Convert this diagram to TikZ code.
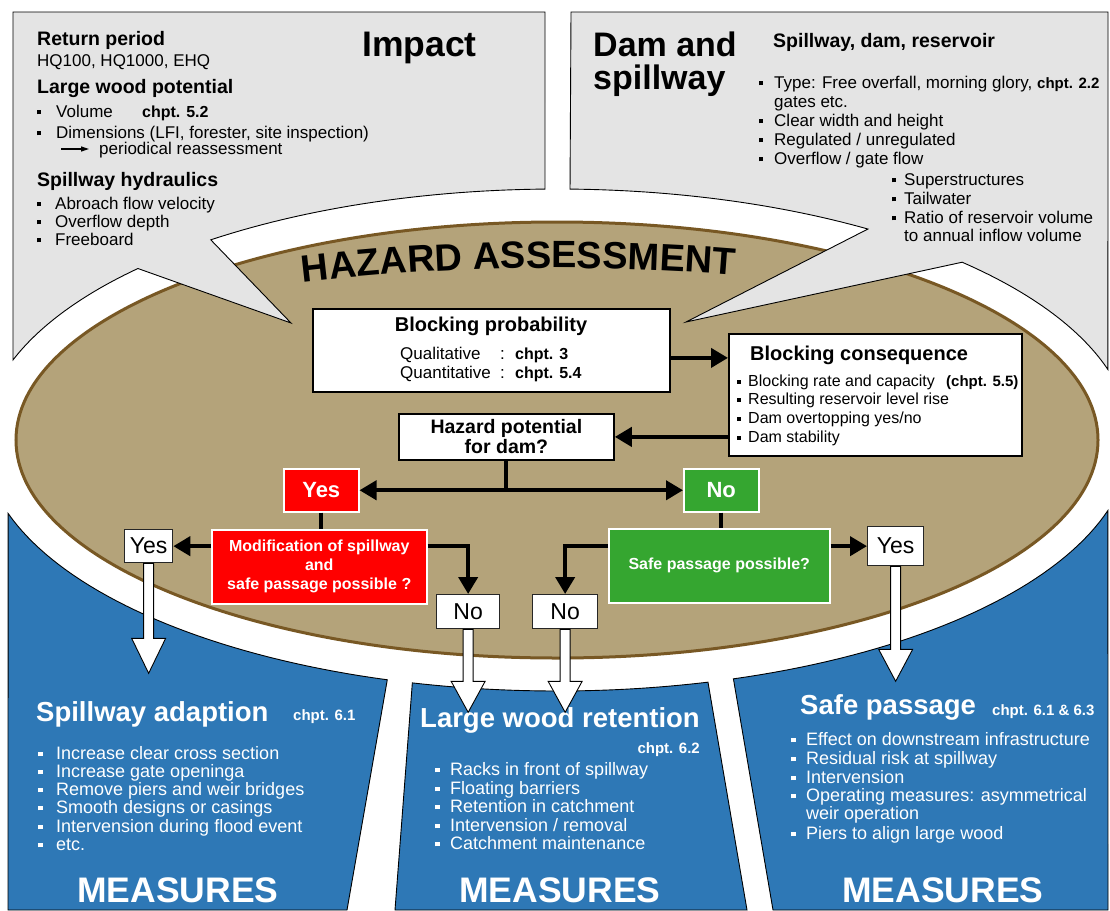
\documentclass[tikz,border=0pt]{standalone}
\usepackage{fontspec}
\setmainfont{Liberation Sans}
\usetikzlibrary{arrows.meta,calc,decorations.text}

\definecolor{calloutgray}{RGB}{228,228,228}
\definecolor{tanfill}{RGB}{180,163,122}
\definecolor{tanedge}{RGB}{120,88,36}
\definecolor{measblue}{RGB}{46,120,182}
\definecolor{boxred}{RGB}{255,0,0}
\definecolor{boxgreen}{RGB}{53,166,48}

\newcommand\fsz[2]{\fontsize{#1}{#2}\selectfont}
\newcommand\bsq{\raisebox{0.15em}{\rule{0.24em}{0.24em}}}
\newcommand\bitem[1]{\makebox[#1][l]{\bsq}}
\newcommand\hazfont{\bfseries\fontsize{38}{40}\selectfont}
\newcommand\harrow[3]{\draw[hollow] ([xshift=-5pt]#1.south) -- ++(0,#2) -- ++(-12,0) -- ++(17,#3) -- ++(17,-#3) -- ++(-12,0) -- ([xshift=5pt]#1.south) -- cycle;}

\begin{document}
\begin{tikzpicture}[x=1pt,y=-1pt,
  callout/.style={fill=calloutgray, draw=black, line width=0.9pt},
  panel/.style={fill=measblue, draw=black, line width=0.9pt},
  wbox/.style={draw=black, fill=white, line width=1.8pt, inner sep=0pt, anchor=north west},
  redbox/.style={draw=white, fill=boxred, line width=1.5pt, inner sep=0pt, anchor=north west, text=white},
  greenbox/.style={draw=white, fill=boxgreen, line width=1.5pt, inner sep=0pt, anchor=north west, text=white},
  ynbox/.style={draw=black!85, fill=white, line width=1.3pt, inner sep=0pt, anchor=north west, font=\fsz{23}{25}},
  conn/.style={draw=black, line width=4pt, -{Triangle[length=17pt,width=19pt]}},
  connline/.style={draw=black, line width=4pt},
  hollow/.style={fill=white, draw=black, line width=0.9pt},
  txt/.style={anchor=base west, inner sep=0pt},
  wtxt/.style={anchor=base west, inner sep=0pt, text=white}
]
\useasboundingbox (0,0) rectangle (1110,910);
\fill[white] (0,0) rectangle (1110,910);

% central ellipse
\draw[draw=tanedge, fill=tanfill, line width=3pt] (557,440) ellipse [x radius=541pt, y radius=218pt];

% callouts
\draw[callout] (545,12) -- (13,12)
  -- plot[domain=198.6:223.1, samples=25] ({557+574*cos(\x)},{440+251*sin(\x)})
  -- (291,323)
  -- plot[domain=232.9:268.8, samples=30] ({557+574*cos(\x)},{440+251*sin(\x)})
  -- cycle;
\draw[callout] (1108,12) -- (571,12)
  -- plot[domain=271.3:302.8, samples=30] ({557+574*cos(\x)},{440+251*sin(\x)})
  -- (686,322)
  -- plot[domain=314.9:343.7, samples=30] ({557+574*cos(\x)},{440+251*sin(\x)})
  -- cycle;

% measure panels
\draw[panel] (347,910)
  -- plot[domain=107.2:163, samples=40] ({557+574*cos(\x)},{440+251*sin(\x)})
  -- (8,910) -- cycle;
\draw[panel] (747,910)
  -- plot[domain=74.75:104.6, samples=30] ({557+574*cos(\x)},{440+251*sin(\x)})
  -- (395,910) -- cycle;
\draw[panel] (1108,910)
  -- plot[domain=16.3:72.1, samples=40] ({557+574*cos(\x)},{440+251*sin(\x)})
  -- (773,910) -- cycle;

% HAZARD ASSESSMENT along arc
\path[decorate, decoration={text along path, text align=center, text={|\hazfont|HAZARD ASSESSMENT}}]
  plot[domain=241:291, samples=60] ({557+600*cos(\x)},{423+155*sin(\x)});

% Impact callout text
\node[txt, font=\bfseries\fsz{35.5}{38}] (imp) at (362,56) {Impact};
\node[txt, font=\bfseries\fsz{19.5}{22}] (rp) at (37,45) {Return period};
\node[txt, font=\fsz{17}{20}] (hq) at (37,66) {HQ100, HQ1000, EHQ};
\node[txt, font=\bfseries\fsz{19.5}{22}] (lw) at (37,93) {Large wood potential};
\node[txt, font=\fsz{17}{20}] (vol) at (37,117) {\bitem{19pt}Volume};
\node[txt, font=\bfseries\fsz{16}{18}] (chv) at (142,117) {chpt. 5.2};
\node[txt, font=\fsz{17}{20}] (dim) at (37,138) {\bitem{19pt}Dimensions (LFI, forester, site inspection)};
\coordinate (pa1) at (61,149);
\coordinate (pa2) at (89,149);
\draw[line width=1.2pt, -{Triangle[length=8pt,width=5pt]}] (pa1) -- (pa2);
\node[txt, font=\fsz{17}{20}] (per) at (99,154) {periodical reassessment};
\node[txt, font=\bfseries\fsz{19.5}{22}] (sh) at (37,186) {Spillway hydraulics};
\node[txt, font=\fsz{17}{20}] (ab) at (37,209) {\bitem{18pt}Abroach flow velocity};
\node[txt, font=\fsz{17}{20}] (ovd) at (37,227) {\bitem{18pt}Overflow depth};
\node[txt, font=\fsz{17}{20}] (fb) at (37,245) {\bitem{18pt}Freeboard};

% Dam callout text
\node[txt, font=\bfseries\fsz{34}{36}] (dam1) at (593,56) {Dam and};
\node[txt, font=\bfseries\fsz{34}{36}] (dam2) at (593,89) {spillway};
\node[txt, font=\bfseries\fsz{19.5}{22}] (sdr) at (773,47) {Spillway, dam, reservoir};
\node[txt, font=\fsz{17}{20}] (ty) at (759,88) {\bitem{15pt}Type: Free overfall, morning glory,};
\node[txt, font=\bfseries\fsz{15}{18}] (ch22) at (1037,88) {chpt. 2.2};
\node[txt, font=\fsz{17}{20}] (ge) at (774,107) {gates etc.};
\node[txt, font=\fsz{17}{20}] (cw) at (759,126) {\bitem{15pt}Clear width and height};
\node[txt, font=\fsz{17}{20}] (reg) at (759,145) {\bitem{15pt}Regulated / unregulated};
\node[txt, font=\fsz{17}{20}] (ovf) at (759,164) {\bitem{15pt}Overflow / gate flow};
\node[txt, font=\fsz{17}{20}] (sup) at (892,185) {\bitem{12pt}Superstructures};
\node[txt, font=\fsz{17}{20}] (tw) at (892,204) {\bitem{12pt}Tailwater};
\node[txt, font=\fsz{17}{20}] (ra) at (892,223) {\bitem{12pt}Ratio of reservoir volume};
\node[txt, font=\fsz{17}{20}] (ta) at (904,241) {to annual inflow volume};

% flowchart boxes
\node[wbox, minimum width=357pt, minimum height=83pt] (bp) at (312,308) {};
\node[anchor=base, inner sep=0pt, font=\bfseries\fsz{20}{22}] (bpt) at (491,331) {Blocking probability};
\node[txt, font=\fsz{17}{20}] (ql) at (400,359) {Qualitative};
\node[txt, font=\fsz{17}{20}] (qlc) at (500,359) {:};
\node[txt, font=\bfseries\fsz{16}{18}] (qlch) at (515,359) {chpt. 3};
\node[txt, font=\fsz{17}{20}] (qn) at (400,378) {Quantitative};
\node[txt, font=\fsz{17}{20}] (qnc) at (500,378) {:};
\node[txt, font=\bfseries\fsz{16}{18}] (qnch) at (515,378) {chpt. 5.4};

\node[wbox, minimum width=293pt, minimum height=122pt] (bc) at (728,333) {};
\node[txt, font=\bfseries\fsz{20}{22}] (bct) at (750,360) {Blocking consequence};
\node[txt, font=\fsz{16}{18}] (c1) at (737,386) {\bitem{11pt}Blocking rate and capacity};
\node[txt, font=\bfseries\fsz{15}{18}] (c1b) at (946,386) {(chpt. 5.5)};
\node[txt, font=\fsz{16}{18}] (c2) at (737,404) {\bitem{11pt}Resulting reservoir level rise};
\node[txt, font=\fsz{16}{18}] (c3) at (737,423) {\bitem{11pt}Dam overtopping yes/no};
\node[txt, font=\fsz{16}{18}] (c4) at (737,442) {\bitem{11pt}Dam stability};

\node[wbox, minimum width=215pt, minimum height=46pt, align=center, font=\bfseries\fsz{19.5}{20}] (hz) at (398,413) {Hazard potential\\for dam?};

\node[redbox, minimum width=75pt, minimum height=43pt, font=\bfseries\fsz{22}{24}] (yesR) at (283,468) {Yes};
\node[greenbox, minimum width=75pt, minimum height=43pt, font=\bfseries\fsz{22}{24}] (noG) at (683,468) {No};
\node[redbox, minimum width=215pt, minimum height=74pt, align=center, font=\bfseries\fsz{16}{19}] (mod) at (211,529) {Modification of spillway\\and\\safe passage possible ?};
\node[greenbox, minimum width=221pt, minimum height=74pt, font=\bfseries\fsz{16}{19}] (safe) at (608,528) {Safe passage possible?};

\node[ynbox, minimum width=48pt, minimum height=33pt] (yesL) at (124,529) {Yes};
\node[ynbox, minimum width=63pt, minimum height=34pt] (noL) at (436,594) {No};
\node[ynbox, minimum width=65pt, minimum height=34pt] (noR) at (532,594) {No};
\node[ynbox, minimum width=56pt, minimum height=39pt] (yesR2) at (867,526) {Yes};

% connectors
\draw[conn] ([yshift=-7.5pt]bp.east) -- ([yshift=-7.5pt]bp.east -| bc.west);
\draw[conn] (bc.west |- hz.east) -- (hz.east);
\draw[conn] (hz.south) |- (yesR.east);
\draw[conn] (hz.south) |- (noG.west);
\draw[connline] (yesR.south) -- (yesR.south |- mod.north);
\draw[connline] (noG.south) -- (noG.south |- safe.north);
\draw[conn] (mod.west |- yesL.east) -- (yesL.east);
\draw[conn] (mod.east |- yesL.east) -| (noL.north);
\draw[conn] (safe.west |- yesR2.west) -| (noR.north);
\draw[conn] (safe.east |- yesR2.west) -- (yesR2.west);

% measures text
\node[wtxt, font=\bfseries\fsz{27.5}{30}] (sa) at (36,721) {Spillway adaption};
\node[wtxt, font=\bfseries\fsz{15}{18}] (sac) at (293,720) {chpt. 6.1};
\node[wtxt, font=\fsz{18}{20}] (s1) at (38,759) {\bitem{18pt}Increase clear cross section};
\node[wtxt, font=\fsz{18}{20}] (s2) at (38,777) {\bitem{18pt}Increase gate openinga};
\node[wtxt, font=\fsz{18}{20}] (s3) at (38,795) {\bitem{18pt}Remove piers and weir bridges};
\node[wtxt, font=\fsz{18}{20}] (s4) at (38,813) {\bitem{18pt}Smooth designs or casings};
\node[wtxt, font=\fsz{18}{20}] (s5) at (38,832) {\bitem{18pt}Intervension during flood event};
\node[wtxt, font=\fsz{18}{20}] (s6) at (38,850) {\bitem{18pt}etc.};
\node[anchor=base, inner sep=0pt, text=white, font=\bfseries\fsz{35.5}{38}] (m1) at (178,902) {MEASURES};

\node[wtxt, font=\bfseries\fsz{27.5}{30}] (lwr) at (420,727) {Large wood retention};
\node[anchor=base east, inner sep=0pt, text=white, font=\bfseries\fsz{15}{18}] (lwc) at (700,753) {chpt. 6.2};
\node[wtxt, font=\fsz{18}{20}] (r1) at (435,775) {\bitem{15pt}Racks in front of spillway};
\node[wtxt, font=\fsz{18}{20}] (r2) at (435,794) {\bitem{15pt}Floating barriers};
\node[wtxt, font=\fsz{18}{20}] (r3) at (435,812) {\bitem{15pt}Retention in catchment};
\node[wtxt, font=\fsz{18}{20}] (r4) at (435,831) {\bitem{15pt}Intervension / removal};
\node[wtxt, font=\fsz{18}{20}] (r5) at (435,849) {\bitem{15pt}Catchment maintenance};
\node[anchor=base, inner sep=0pt, text=white, font=\bfseries\fsz{35.5}{38}] (m2) at (560,902) {MEASURES};

\node[wtxt, font=\bfseries\fsz{27.5}{30}] (sp) at (800,714) {Safe passage};
\node[wtxt, font=\bfseries\fsz{15}{18}] (spc) at (992,715) {chpt. 6.1 \& 6.3};
\node[wtxt, font=\fsz{18}{20}] (p1) at (791,745) {\bitem{15pt}Effect on downstream infrastructure};
\node[wtxt, font=\fsz{18}{20}] (p2) at (791,764) {\bitem{15pt}Residual risk at spillway};
\node[wtxt, font=\fsz{18}{20}] (p3) at (791,783) {\bitem{15pt}Intervension};
\node[wtxt, font=\fsz{18}{20}] (p4) at (791,801) {\bitem{15pt}Operating measures: asymmetrical};
\node[wtxt, font=\fsz{18}{20}] (p4b) at (806,819) {weir operation};
\node[wtxt, font=\fsz{18}{20}] (p5) at (791,839) {\bitem{15pt}Piers to align large wood};
\node[anchor=base, inner sep=0pt, text=white, font=\bfseries\fsz{35.5}{38}] (m3) at (943,902) {MEASURES};

% hollow arrows into the measure panels
\harrow{yesL}{75}{35}
\harrow{noL}{52}{31}
\harrow{noR}{52}{31}
\harrow{yesR2}{83}{32}
\end{tikzpicture}
\end{document}
